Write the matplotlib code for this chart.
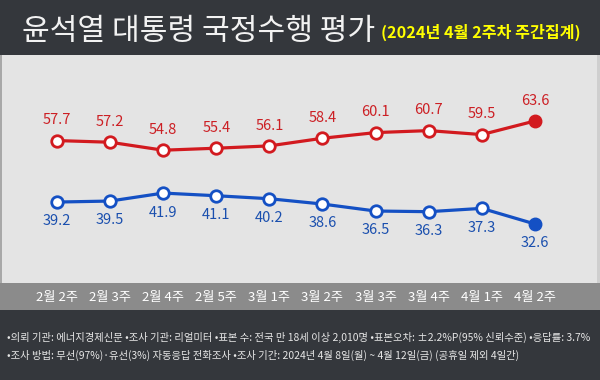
import matplotlib
matplotlib.use("Agg")
import matplotlib.pyplot as plt
from matplotlib.patches import Rectangle

plt.rcParams['font.family'] = ['Noto Sans CJK KR', 'DejaVu Sans']

weeks = ["2월 2주", "2월 3주", "2월 4주", "2월 5주", "3월 1주",
         "3월 2주", "3월 3주", "3월 4주", "4월 1주", "4월 2주"]
negative = [57.7, 57.2, 54.8, 55.4, 56.1, 58.4, 60.1, 60.7, 59.5, 63.6]
positive = [39.2, 39.5, 41.9, 41.1, 40.2, 38.6, 36.5, 36.3, 37.3, 32.6]

title = "윤석열 대통령 국정수행 평가"
subtitle = "(2024년 4월 2주차 주간집계)"
note1 = ("•의뢰 기관: 에너지경제신문 •조사 기관: 리얼미터 •표본 수: 전국 만 18세 이상 2,010명 "
         "•표본오차: ±2.2%P(95% 신뢰수준) •응답률: 3.7%")
note2 = "•조사 방법: 무선(97%)·유선(3%) 자동응답 전화조사 •조사 기간: 2024년 4월 8일(월) ~ 4월 12일(금) (공휴일 제외 4일간)"

W, H = 600, 380
fig = plt.figure(figsize=(6, 3.8), dpi=100)
fig.patch.set_facecolor('#e4e4e4')

def band(y_top, y_bot, color):
    fig.add_artist(Rectangle((0, 1 - y_bot / H), 1, (y_bot - y_top) / H,
                             transform=fig.transFigure, facecolor=color,
                             edgecolor='none', zorder=0))

band(0, 55, '#34373c')
band(283, 310, '#8b8b8b')
band(310, 380, '#34373c')
# left / right borders of plot area
fig.add_artist(Rectangle((0, 1 - 283 / H), 2 / W, (283 - 55) / H,
                         transform=fig.transFigure, facecolor='#a8a8a8',
                         edgecolor='none', zorder=1))
fig.add_artist(Rectangle((1 - 3 / W, 1 - 283 / H), 3 / W, (283 - 55) / H,
                         transform=fig.transFigure, facecolor='#cfcfcf',
                         edgecolor='none', zorder=1))

ax = fig.add_axes([0, 1 - 283 / H, 1, (283 - 55) / H])
ax.set_facecolor('none')
x = list(range(len(weeks)))
ax.set_xlim(-1.073, 10.226)
ax.set_ylim(14.84, 83.45)

red = '#d21a1f'
blue = '#1450c4'
ax.plot(x, negative, color=red, lw=2.3, zorder=3)
ax.plot(x[:-1], negative[:-1], 'o', ms=8.3, mfc='white', mec=red, mew=2.0, zorder=4)
ax.plot(x[-1:], negative[-1:], 'o', ms=9.0, mfc=red, mec=red, zorder=4)
ax.plot(x, positive, color=blue, lw=2.3, zorder=3)
ax.plot(x[:-1], positive[:-1], 'o', ms=8.3, mfc='white', mec=blue, mew=2.0, zorder=4)
ax.plot(x[-1:], positive[-1:], 'o', ms=9.0, mfc=blue, mec=blue, zorder=4)

for xi, v in zip(x, negative):
    ax.annotate(f"{v}", (xi, v), xytext=(0, 14.5), textcoords='offset points',
                ha='center', va='center', color='#cc1f24', fontsize=10.5)
for xi, v in zip(x, positive):
    ax.annotate(f"{v}", (xi, v), xytext=(0, -14), textcoords='offset points',
                ha='center', va='center', color='#1a4fae', fontsize=10.5)

ax.set_xticks(x)
ax.set_xticklabels(weeks, color='white', fontsize=9.5)
ax.tick_params(axis='x', length=0, pad=6)
ax.set_yticks([])
for s in ax.spines.values():
    s.set_visible(False)

fig.text(22 / W, 1 - 31 / H, title, color='#f2f2f2', fontsize=21.7,
         ha='left', va='center')
fig.text(381 / W, 1 - 32.5 / H, subtitle, color='#ffff00', fontsize=11.6,
         fontweight='bold', ha='left', va='center')
fig.text(7 / W, 1 - 337 / H, note1, color='#e6e6e6', fontsize=7.45,
         ha='left', va='center')
fig.text(7 / W, 1 - 355 / H, note2, color='#e6e6e6', fontsize=7.45,
         ha='left', va='center')

fig.savefig('out.png', dpi=100, facecolor=fig.get_facecolor())
